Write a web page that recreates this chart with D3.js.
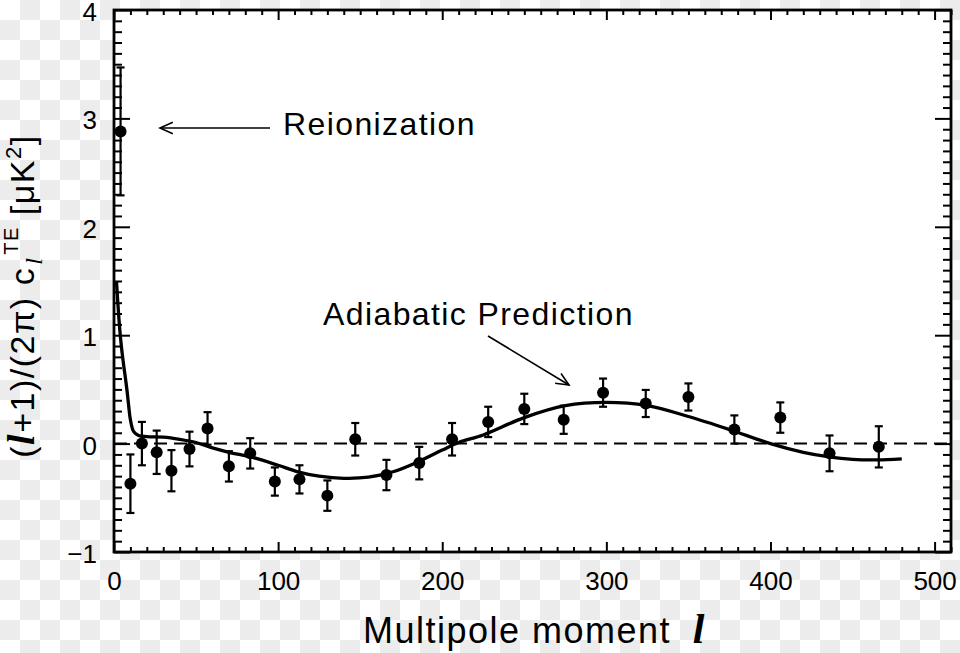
<!DOCTYPE html>
<html>
<head>
<meta charset="utf-8">
<script src="https://cdn.jsdelivr.net/npm/d3@7"></script>
<style>
  html, body { margin: 0; padding: 0; background: #fff; }
  svg { display: block; font-family: "Liberation Sans", Arial, Helvetica, sans-serif; }
</style>
</head>
<body>
<script>
// TE power spectrum

// measured points: multipole, value, 1-sigma error
var ell = [4, 10, 17, 26, 35, 46, 57, 70, 83, 98, 113, 130, 147, 166, 186,
           206, 228, 250, 274, 298, 324, 350, 378, 406, 436, 466];
var cte = [2.88, -0.37, 0.0, -0.08, -0.25, -0.05, 0.14, -0.21, -0.09, -0.35, -0.33, -0.48, 0.04, -0.29, -0.18,
           0.04, 0.20, 0.32, 0.22, 0.47, 0.37, 0.43, 0.13, 0.24, -0.09, -0.03];
var err = [0.59, 0.27, 0.20, 0.20, 0.19, 0.16, 0.15, 0.14, 0.14, 0.13, 0.13, 0.14, 0.15, 0.14, 0.15,
           0.15, 0.14, 0.14, 0.13, 0.13, 0.125, 0.125, 0.13, 0.14, 0.165, 0.19];

// adiabatic prediction curve
var modelEll = [1.5, 3, 4, 5, 6, 7, 8, 9, 10, 12, 15, 20, 30, 40, 50, 60, 70, 85, 100, 112, 125, 140,
                155, 170, 185, 200, 210, 225, 250, 275, 300, 325, 350, 375, 400, 420, 435, 450, 465, 480];
var modelCte = [1.5, 1.15, 0.97, 0.83, 0.71, 0.6, 0.48, 0.34, 0.22, 0.11, 0.075, 0.065, 0.06, 0.04, 0.01,
                -0.04, -0.08, -0.13, -0.2, -0.26, -0.3, -0.32, -0.31, -0.26, -0.17, -0.06, 0.01, 0.08,
                0.24, 0.35, 0.38, 0.35, 0.25, 0.13, 0.0, -0.08, -0.12, -0.145, -0.15, -0.14];

var xMajor = [0, 100, 200, 300, 400, 500];
var yMajor = [-1, 0, 1, 2, 3, 4];

var width = 960;
var height = 653;
// plot box (note: "top" is taken by window.top, so prefix these)
var boxL = 114, boxR = 951, boxT = 10, boxB = 552;

var svg = d3.select('body')
            .append('svg')
            .attr('width', width)
            .attr('height', height);

// checkered backdrop, like the source image
var pat = svg.append('defs').append('pattern')
             .attr('id', 'chk')
             .attr('patternUnits', 'userSpaceOnUse')
             .attr('width', 40)
             .attr('height', 40);
pat.append('rect').attr('width', 40).attr('height', 40).attr('fill', '#ffffff');
pat.append('rect').attr('x', 20).attr('y', 0).attr('width', 20).attr('height', 20).attr('fill', '#ececec');
pat.append('rect').attr('x', 0).attr('y', 20).attr('width', 20).attr('height', 20).attr('fill', '#ececec');

svg.append('rect')
   .attr('width', width)
   .attr('height', height)
   .attr('fill', 'url(#chk)');

var x = d3.scaleLinear().domain([0, 510]).range([boxL, boxR]);
var y = d3.scaleLinear().domain([-1, 4]).range([boxB, boxT]);

svg.append('rect')
   .attr('x', boxL).attr('y', boxT)
   .attr('width', boxR - boxL).attr('height', boxB - boxT)
   .attr('fill', '#fff');

// zero line
svg.append('line')
   .attr('x1', boxL).attr('x2', boxR)
   .attr('y1', y(0)).attr('y2', y(0))
   .attr('stroke', '#000')
   .attr('stroke-width', 2)
   .attr('stroke-dasharray', '13,7');

// prediction
var line = d3.line()
             .x(function(d, i) { return x(modelEll[i]); })
             .y(function(d) { return y(d); })
             .curve(d3.curveCatmullRom);

svg.append('path')
   .attr('d', line(modelCte))
   .attr('fill', 'none')
   .attr('stroke', '#000')
   .attr('stroke-width', 3.3);

// error bars
var bars = svg.append('g').attr('stroke', '#000').attr('stroke-width', 2.2);
ell.forEach(function(l, i) {
  var cx = x(l);
  var y1 = y(cte[i] + err[i]);
  var y2 = y(cte[i] - err[i]);
  bars.append('line').attr('x1', cx).attr('x2', cx).attr('y1', y1).attr('y2', y2);
  bars.append('line').attr('x1', cx - 4).attr('x2', cx + 4).attr('y1', y1).attr('y2', y1);
  bars.append('line').attr('x1', cx - 4).attr('x2', cx + 4).attr('y1', y2).attr('y2', y2);
});

svg.selectAll('circle.pt')
   .data(cte)
   .enter()
   .append('circle')
   .attr('class', 'pt')
   .attr('cx', function(d, i) { return x(ell[i]); })
   .attr('cy', function(d) { return y(d); })
   .attr('r', 6)
   .attr('fill', '#000');

// axes: ticks pointing inwards on all four sides
var minorX = d3.range(0, 511, 10).filter(function(v) { return v % 100 !== 0; });
var minorY = d3.range(-10, 41, 1).map(function(v) { return v / 10; })
               .filter(function(v) { return Math.abs(v - Math.round(v)) > 1e-6; });

function styleAxis(g) {
  g.select('.domain').remove();
  g.selectAll('line').attr('stroke', '#000').attr('stroke-width', 2);
  g.selectAll('text').attr('fill', '#000').attr('font-size', 26)
   .attr('font-family', '"Liberation Sans", Arial, sans-serif');
}

svg.append('g').attr('transform', 'translate(0,' + boxB + ')')
   .call(d3.axisBottom(x).tickValues(xMajor).tickSize(-10).tickPadding(20).tickFormat(d3.format('d')))
   .call(styleAxis);
svg.append('g').attr('transform', 'translate(0,' + boxB + ')')
   .call(d3.axisBottom(x).tickValues(minorX).tickSize(-5).tickFormat(''))
   .call(styleAxis);
svg.append('g').attr('transform', 'translate(0,' + boxT + ')')
   .call(d3.axisTop(x).tickValues(xMajor).tickSize(-10).tickFormat(''))
   .call(styleAxis);
svg.append('g').attr('transform', 'translate(0,' + boxT + ')')
   .call(d3.axisTop(x).tickValues(minorX).tickSize(-5).tickFormat(''))
   .call(styleAxis);

svg.append('g').attr('transform', 'translate(' + boxL + ',0)')
   .call(d3.axisLeft(y).tickValues(yMajor).tickSize(-16).tickPadding(17)
           .tickFormat(function(d) { return d < 0 ? '\u2212' + Math.abs(d) : d; }))
   .call(styleAxis)
   .selectAll('text').attr('dy', '0.4em');
svg.append('g').attr('transform', 'translate(' + boxL + ',0)')
   .call(d3.axisLeft(y).tickValues(minorY).tickSize(-8).tickFormat(''))
   .call(styleAxis);
svg.append('g').attr('transform', 'translate(' + boxR + ',0)')
   .call(d3.axisRight(y).tickValues(yMajor).tickSize(-16).tickFormat(''))
   .call(styleAxis);
svg.append('g').attr('transform', 'translate(' + boxR + ',0)')
   .call(d3.axisRight(y).tickValues(minorY).tickSize(-8).tickFormat(''))
   .call(styleAxis);

// frame
svg.append('rect')
   .attr('x', boxL).attr('y', boxT)
   .attr('width', boxR - boxL).attr('height', boxB - boxT)
   .attr('fill', 'none')
   .attr('stroke', '#000')
   .attr('stroke-width', 2.8);

// x title
var xt = svg.append('text')
            .attr('x', 363)
            .attr('y', 643)
            .attr('font-size', 36)
            .attr('letter-spacing', 1.5)
            .attr('fill', '#000')
            .text('Multipole moment ');
xt.append('tspan')
  .attr('font-family', '"Liberation Serif", "Times New Roman", serif')
  .attr('font-style', 'italic')
  .attr('font-weight', 'bold')
  .attr('letter-spacing', 0)
  .attr('font-size', 42)
  .attr('dx', 10)
  .text('l');

// y title
var serifL = '"Liberation Serif", "Times New Roman", serif';
var yt = svg.append('text')
            .attr('transform', 'translate(34,296) rotate(-90)')
            .attr('text-anchor', 'middle')
            .attr('font-size', 34)
            .attr('letter-spacing', 1.5)
            .attr('fill', '#000');
yt.append('tspan').text('(');
yt.append('tspan').attr('font-family', serifL).attr('font-style', 'italic')
  .attr('font-weight', 'bold').attr('font-size', 38).text('l');
yt.append('tspan').text('+1)/(2\u03c0) c');
yt.append('tspan').attr('font-family', serifL).attr('font-style', 'italic')
  .attr('font-size', 24).attr('dy', 8).attr('dx', 2).text('l');
yt.append('tspan').attr('font-size', 20).attr('dy', -24).attr('dx', 2).text('TE');
yt.append('tspan').attr('dy', 16).text(' [\u03bcK');
yt.append('tspan').attr('font-size', 22).attr('dy', -13).text('2');
yt.append('tspan').attr('dy', 13).text(']');

// annotations
svg.append('text')
   .attr('x', 283).attr('y', 135)
   .attr('font-size', 32)
   .attr('letter-spacing', 1.4)
   .attr('fill', '#000')
   .text('Reionization');

svg.append('text')
   .attr('x', 323).attr('y', 325)
   .attr('font-size', 32)
   .attr('letter-spacing', 1.4)
   .attr('fill', '#000')
   .text('Adiabatic Prediction');

var arrows = svg.append('g')
                .attr('stroke', '#000')
                .attr('stroke-width', 1.6)
                .attr('fill', 'none');

function arrow(x1, y1, x2, y2) {
  var a = Math.atan2(y2 - y1, x2 - x1);
  var len = 14, spread = 0.42;
  arrows.append('line').attr('x1', x1).attr('y1', y1).attr('x2', x2).attr('y2', y2);
  arrows.append('path')
        .attr('d', 'M' + (x2 - len * Math.cos(a - spread)) + ',' + (y2 - len * Math.sin(a - spread)) +
                   'L' + x2 + ',' + y2 +
                   'L' + (x2 - len * Math.cos(a + spread)) + ',' + (y2 - len * Math.sin(a + spread)));
}

arrow(270, 128, 160, 128);
arrow(488, 336, 569, 385);
</script>
</body>
</html>
